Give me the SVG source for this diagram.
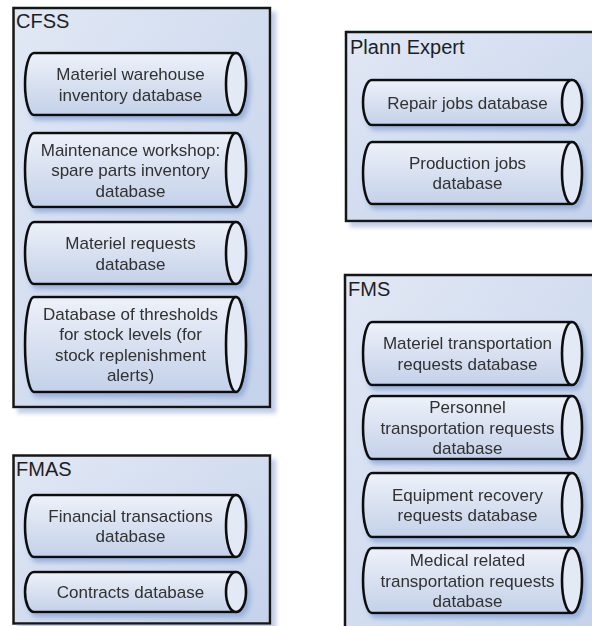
<svg xmlns="http://www.w3.org/2000/svg" width="592" height="626" viewBox="0 0 592 626">
  <defs>
    <linearGradient id="boxFill" x1="0" y1="0" x2="1" y2="1">
      <stop offset="0" stop-color="#e1e8f5"/>
      <stop offset="1" stop-color="#c4d2ea"/>
    </linearGradient>
    <linearGradient id="cylFill" x1="0" y1="0" x2="0" y2="1">
      <stop offset="0" stop-color="#edf1f9"/>
      <stop offset="1" stop-color="#c4d1e9"/>
    </linearGradient>
    <filter id="boxShadow" x="-10%" y="-10%" width="125%" height="125%">
      <feDropShadow dx="5" dy="5" stdDeviation="2" flood-color="#b9c8e3" flood-opacity="0.9"/>
    </filter>
    <filter id="cylShadow" x="-10%" y="-20%" width="125%" height="150%">
      <feDropShadow dx="3" dy="4" stdDeviation="2.5" flood-color="#8ea8d8" flood-opacity="0.85"/>
    </filter>
  </defs>
  <style>
    .box { fill: url(#boxFill); stroke: #161616; stroke-width: 2.5; filter: url(#boxShadow); }
    .title { font-family: "Liberation Sans", Arial, sans-serif; font-size: 20px; fill: #1e1e1e; }
    .body { fill: url(#cylFill); stroke: #111; stroke-width: 2.6; stroke-linejoin: round; }
    .cyl { filter: url(#cylShadow); }
    .end { fill: #e3e9f5; stroke: #111; stroke-width: 2.6; }
    .label { font-family: "Liberation Sans", Arial, sans-serif; font-size: 17px; fill: #303030; text-anchor: middle; }
  </style>

  <!-- CFSS system -->
  <g id="cfss">
    <rect class="box" x="13.5" y="8" width="256.5" height="399"/>
    <text class="title" x="16" y="28">CFSS</text>
  </g>
  <g id="cfss-warehouse" class="cyl">
    <path class="body" d="M34 53 L236 53 A10 31 0 0 1 236 115 L34 115 A9 31 0 0 1 34 53 Z"/>
    <ellipse class="end" cx="236" cy="84" rx="10" ry="31"/>
    <text class="label" x="130.5" y="80">Materiel warehouse</text>
    <text class="label" x="130.5" y="100.5">inventory database</text>
  </g>
  <g id="cfss-workshop" class="cyl">
    <path class="body" d="M34 133 L236 133 A10 37 0 0 1 236 207 L34 207 A9 37 0 0 1 34 133 Z"/>
    <ellipse class="end" cx="236" cy="170" rx="10" ry="37"/>
    <text class="label" x="130.5" y="155.5">Maintenance workshop:</text>
    <text class="label" x="130.5" y="176">spare parts inventory</text>
    <text class="label" x="130.5" y="196.5">database</text>
  </g>
  <g id="cfss-requests" class="cyl">
    <path class="body" d="M34 222 L236 222 A10 31 0 0 1 236 284 L34 284 A9 31 0 0 1 34 222 Z"/>
    <ellipse class="end" cx="236" cy="253" rx="10" ry="31"/>
    <text class="label" x="130.5" y="249">Materiel requests</text>
    <text class="label" x="130.5" y="269.5">database</text>
  </g>
  <g id="cfss-thresholds" class="cyl">
    <path class="body" d="M34 297 L236 297 A10 47.5 0 0 1 236 392 L34 392 A9 47.5 0 0 1 34 297 Z"/>
    <ellipse class="end" cx="236" cy="344.5" rx="10" ry="47.5"/>
    <text class="label" x="130.5" y="319.75">Database of thresholds</text>
    <text class="label" x="130.5" y="340.25">for stock levels (for</text>
    <text class="label" x="130.5" y="360.75">stock replenishment</text>
    <text class="label" x="130.5" y="381.25">alerts)</text>
  </g>

  <!-- FMAS system -->
  <g id="fmas">
    <rect class="box" x="13.5" y="455.5" width="256.5" height="168"/>
    <text class="title" x="16" y="476">FMAS</text>
  </g>
  <g id="fmas-financial" class="cyl">
    <path class="body" d="M34 495 L236 495 A10 31 0 0 1 236 557 L34 557 A9 31 0 0 1 34 495 Z"/>
    <ellipse class="end" cx="236" cy="526" rx="10" ry="31"/>
    <text class="label" x="130.5" y="521.75">Financial transactions</text>
    <text class="label" x="130.5" y="542.25">database</text>
  </g>
  <g id="fmas-contracts" class="cyl">
    <path class="body" d="M34 572 L236 572 A10 20 0 0 1 236 612 L34 612 A9 20 0 0 1 34 572 Z"/>
    <ellipse class="end" cx="236" cy="592" rx="10" ry="20"/>
    <text class="label" x="130.5" y="598">Contracts database</text>
  </g>

  <!-- Plann Expert system -->
  <g id="plann-expert">
    <rect class="box" x="346" y="32" width="262" height="189"/>
    <text class="title" x="350" y="54">Plann Expert</text>
  </g>
  <g id="plann-repair" class="cyl">
    <path class="body" d="M372 80 L572 80 A10 22.5 0 0 1 572 125 L372 125 A9 22.5 0 0 1 372 80 Z"/>
    <ellipse class="end" cx="572" cy="102.5" rx="10" ry="22.5"/>
    <text class="label" x="467.5" y="108.5">Repair jobs database</text>
  </g>
  <g id="plann-production" class="cyl">
    <path class="body" d="M372 142 L572 142 A10 31 0 0 1 572 204 L372 204 A9 31 0 0 1 372 142 Z"/>
    <ellipse class="end" cx="572" cy="173" rx="10" ry="31"/>
    <text class="label" x="467.5" y="168.75">Production jobs</text>
    <text class="label" x="467.5" y="189.25">database</text>
  </g>

  <!-- FMS system -->
  <g id="fms">
    <rect class="box" x="345" y="275" width="262" height="362"/>
    <text class="title" x="348" y="296">FMS</text>
  </g>
  <g id="fms-materiel" class="cyl">
    <path class="body" d="M372 322 L572 322 A10 31.5 0 0 1 572 385 L372 385 A9 31.5 0 0 1 372 322 Z"/>
    <ellipse class="end" cx="572" cy="353.5" rx="10" ry="31.5"/>
    <text class="label" x="467.5" y="349.25">Materiel transportation</text>
    <text class="label" x="467.5" y="369.75">requests database</text>
  </g>
  <g id="fms-personnel" class="cyl">
    <path class="body" d="M372 396 L572 396 A10 31.5 0 0 1 572 459 L372 459 A9 31.5 0 0 1 372 396 Z"/>
    <ellipse class="end" cx="572" cy="427.5" rx="10" ry="31.5"/>
    <text class="label" x="467.5" y="413">Personnel</text>
    <text class="label" x="467.5" y="433.5">transportation requests</text>
    <text class="label" x="467.5" y="454">database</text>
  </g>
  <g id="fms-equipment" class="cyl">
    <path class="body" d="M372 473 L572 473 A10 32 0 0 1 572 537 L372 537 A9 32 0 0 1 372 473 Z"/>
    <ellipse class="end" cx="572" cy="505" rx="10" ry="32"/>
    <text class="label" x="467.5" y="500.75">Equipment recovery</text>
    <text class="label" x="467.5" y="521.25">requests database</text>
  </g>
  <g id="fms-medical" class="cyl">
    <path class="body" d="M372 548 L572 548 A10 32.5 0 0 1 572 613 L372 613 A9 32.5 0 0 1 372 548 Z"/>
    <ellipse class="end" cx="572" cy="580.5" rx="10" ry="32.5"/>
    <text class="label" x="467.5" y="566">Medical related</text>
    <text class="label" x="467.5" y="586.5">transportation requests</text>
    <text class="label" x="467.5" y="607">database</text>
  </g>
</svg>
